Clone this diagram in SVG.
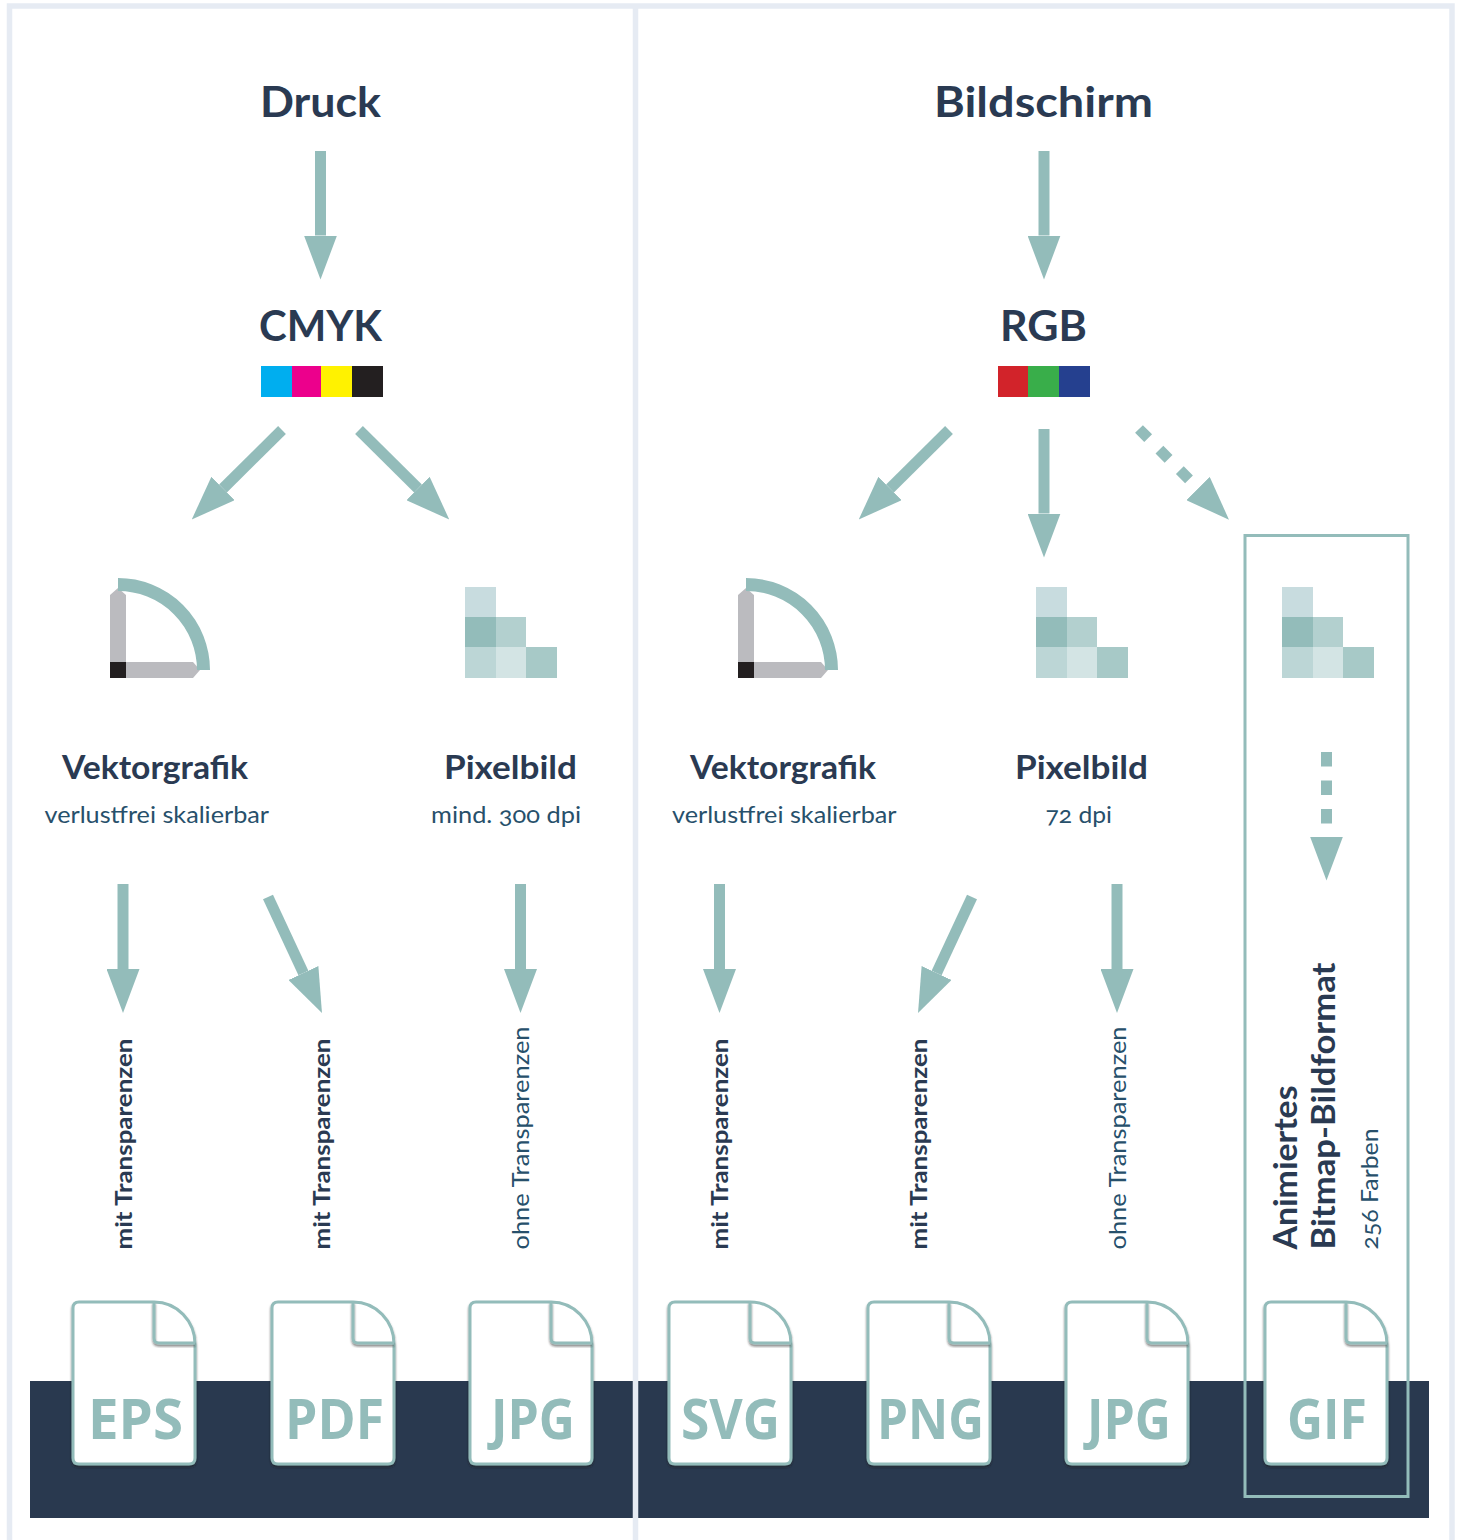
<svg xmlns="http://www.w3.org/2000/svg" width="1461" height="1540" viewBox="0 0 1461 1540">
<style>
text{font-family:Lato,"Liberation Sans",sans-serif}
.t{font-weight:700;font-size:42px;fill:#2a3a52}
.h{font-weight:700;font-size:32px;fill:#2a3a52}
.s{font-weight:400;font-size:24px;fill:#27506b;font-variant-numeric:oldstyle-nums}
.m{font-weight:700;font-size:23.500px;fill:#2a3a52}
.o{font-weight:400;font-size:24px;fill:#27506b}
.f{font-family:"Open Sans","Liberation Sans",sans-serif;font-weight:700;font-size:55px;fill:#93bcba}
.a{fill:none;stroke:#93bcba;stroke-width:11;marker-end:url(#head)}
.b{fill:#bbbbbf}
.k{fill:#231f20}
.arc{fill:none;stroke:#93bcba;stroke-width:13}
.doc{fill:#fff;stroke:#93bcba;stroke-width:3;filter:url(#sh)}
</style>
<defs>
<marker id="head" markerUnits="userSpaceOnUse" markerWidth="44" markerHeight="33" refX="0" refY="16.500" orient="auto"><path d="M0 0L44 16.500L0 33z" fill="#93bcba"/></marker>
<filter id="sh" x="-10%" y="-10%" width="120%" height="120%"><feDropShadow dx="0" dy="2" stdDeviation="1" flood-color="#222" flood-opacity=".55"/></filter>
<g id="vec"><path class="b" d="M110 678V595L118 588L126 595V678zM110 678H193L200 670L193 662H110z"/><rect class="k" x="110" y="662" width="16" height="16"/><path class="arc" d="M118 584.500A85.500 85.500 0 0 1 203.500 670"/></g>
<g id="px"><rect x="0" y="0" width="31" height="30" fill="#c8dcdf"/><rect x="0" y="30" width="31" height="30" fill="#93bcba"/><rect x="31" y="30" width="30" height="30" fill="#b3d0cf"/><rect x="0" y="60" width="31" height="31" fill="#bcd6d6"/><rect x="31" y="60" width="30" height="31" fill="#d3e4e4"/><rect x="61" y="60" width="31" height="31" fill="#a7c9c7"/></g>
<g id="doc"><path class="doc" d="M1 7Q1 1 7 1H82C105 1 123 20 123 43V157Q123 163 117 163H7Q1 163 1 157z"/><path fill="none" stroke="#93bcba" stroke-width="3" filter="url(#sh)" d="M82 1V37Q82 42 87 42H123"/></g>
</defs>
<rect width="1461" height="1540" fill="#fff"/>
<g id="band"><rect x="30" y="1381" width="1399" height="137" fill="#29394f"/></g>
<g id="frame" fill="none" stroke="#e6ebf3" stroke-width="5.500"><path d="M9.500 1540V6H1452V1540M635.500 6V1540"/></g>
<g id="connectors">
<path class="a" d="M320.500 151V235.500"/>
<path class="a" d="M1044 151V235.500"/>
<path class="a" d="M282 430L223 488.500"/>
<path class="a" d="M359 430L418 488.500"/>
<path class="a" d="M949 430L890 488.500"/>
<path class="a" d="M1044 429V513.500"/>
<path class="a" d="M1139 429L1198 488.500" stroke-dasharray="13 16"/>
<path class="a" d="M1326.500 752V836.500" stroke-dasharray="14.500 14"/>
<path class="a" d="M123 884V969"/>
<path class="a" d="M268 897L303.400 973"/>
<path class="a" d="M520.500 884V969"/>
<path class="a" d="M719.500 884V969"/>
<path class="a" d="M972 897L936.600 973"/>
<path class="a" d="M1117 884V969"/>
</g>
<g id="druck"><text class="t" x="260" y="117" textLength="121" lengthAdjust="spacingAndGlyphs">Druck</text></g>
<g id="bildschirm"><text class="t" x="934" y="117" textLength="219" lengthAdjust="spacingAndGlyphs">Bildschirm</text></g>
<g id="cmyk"><text class="t" x="259" y="340.500" textLength="123" lengthAdjust="spacingAndGlyphs">CMYK</text>
<rect x="261" y="366" width="31" height="31" fill="#00aeef"/><rect x="292" y="366" width="29" height="31" fill="#ec008c"/><rect x="321" y="366" width="31" height="31" fill="#fff200"/><rect x="352" y="366" width="31" height="31" fill="#231f20"/></g>
<g id="rgb"><text class="t" x="1000" y="340.500" textLength="87" lengthAdjust="spacingAndGlyphs">RGB</text>
<rect x="998" y="366" width="30" height="31" fill="#d2232a"/><rect x="1028" y="366" width="31" height="31" fill="#39ae4a"/><rect x="1059" y="366" width="31" height="31" fill="#25408f"/></g>
<g id="vektor-druck"><use href="#vec"/><text class="h" x="62" y="778.500" textLength="186" lengthAdjust="spacingAndGlyphs">Vektorgrafik</text><text class="s" x="44.500" y="823" textLength="224.500" lengthAdjust="spacingAndGlyphs">verlustfrei skalierbar</text></g>
<g id="pixel-druck"><use href="#px" x="465" y="587"/><text class="h" x="444" y="778.500" textLength="133" lengthAdjust="spacingAndGlyphs">Pixelbild</text><text class="s" x="431" y="823" textLength="150" lengthAdjust="spacingAndGlyphs">mind. 300 dpi</text></g>
<g id="vektor-bild"><use href="#vec" x="628"/><text class="h" x="690" y="778.500" textLength="186" lengthAdjust="spacingAndGlyphs">Vektorgrafik</text><text class="s" x="672" y="823" textLength="224.500" lengthAdjust="spacingAndGlyphs">verlustfrei skalierbar</text></g>
<g id="pixel-bild"><use href="#px" x="1036" y="587"/><text class="h" x="1015" y="778.500" textLength="133" lengthAdjust="spacingAndGlyphs">Pixelbild</text><text class="s" x="1045.500" y="823" textLength="66.500" lengthAdjust="spacingAndGlyphs">72 dpi</text></g>
<g id="label-eps"><text class="m" transform="translate(131.500 1249.500) rotate(-90)" textLength="211" lengthAdjust="spacingAndGlyphs">mit Transparenzen</text></g>
<g id="label-pdf"><text class="m" transform="translate(330 1249.500) rotate(-90)" textLength="211" lengthAdjust="spacingAndGlyphs">mit Transparenzen</text></g>
<g id="label-jpg"><text class="o" transform="translate(528.500 1249.500) rotate(-90)" textLength="223" lengthAdjust="spacingAndGlyphs">ohne Transparenzen</text></g>
<g id="label-svg"><text class="m" transform="translate(728 1249.500) rotate(-90)" textLength="211" lengthAdjust="spacingAndGlyphs">mit Transparenzen</text></g>
<g id="label-png"><text class="m" transform="translate(927 1249.500) rotate(-90)" textLength="211" lengthAdjust="spacingAndGlyphs">mit Transparenzen</text></g>
<g id="label-jpg2"><text class="o" transform="translate(1125.500 1249.500) rotate(-90)" textLength="223" lengthAdjust="spacingAndGlyphs">ohne Transparenzen</text></g>
<g id="file-eps"><use href="#doc" x="72" y="1301"/><text class="f" x="88" y="1439" textLength="95" lengthAdjust="spacingAndGlyphs">EPS</text></g>
<g id="file-pdf"><use href="#doc" x="271" y="1301"/><text class="f" x="285" y="1439" textLength="99" lengthAdjust="spacingAndGlyphs">PDF</text></g>
<g id="file-jpg"><use href="#doc" x="469" y="1301"/><text class="f" x="491" y="1439" textLength="84" lengthAdjust="spacingAndGlyphs">JPG</text></g>
<g id="file-svg"><use href="#doc" x="668" y="1301"/><text class="f" x="681" y="1439" textLength="99" lengthAdjust="spacingAndGlyphs">SVG</text></g>
<g id="file-png"><use href="#doc" x="867" y="1301"/><text class="f" x="877" y="1439" textLength="107" lengthAdjust="spacingAndGlyphs">PNG</text></g>
<g id="file-jpg2"><use href="#doc" x="1065" y="1301"/><text class="f" x="1087" y="1439" textLength="84" lengthAdjust="spacingAndGlyphs">JPG</text></g>
<g id="gif"><rect x="1245" y="535.500" width="163" height="961" fill="none" stroke="#93bcba" stroke-width="3"/>
<use href="#px" x="1282" y="587"/>
<text class="h" transform="translate(1297 1249.500) rotate(-90)" textLength="164" lengthAdjust="spacingAndGlyphs">Animiertes</text>
<text class="h" transform="translate(1335 1249.500) rotate(-90)" textLength="287" lengthAdjust="spacingAndGlyphs">Bitmap-Bildformat</text>
<text class="s" transform="translate(1377.500 1249.500) rotate(-90)" textLength="121" lengthAdjust="spacingAndGlyphs">256 Farben</text>
<use href="#doc" x="1264" y="1301"/><text class="f" x="1287" y="1439" textLength="80" lengthAdjust="spacingAndGlyphs">GIF</text></g>
</svg>
